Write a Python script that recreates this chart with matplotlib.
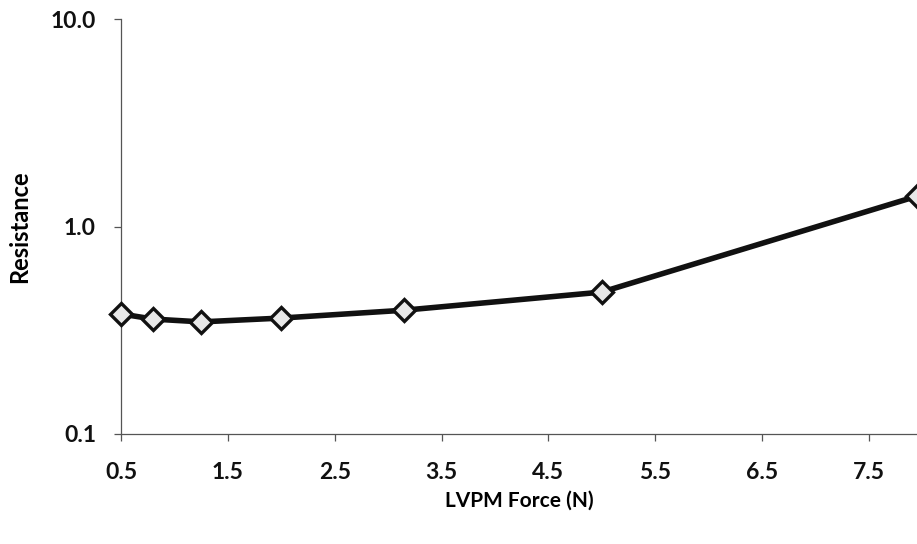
import matplotlib
matplotlib.use("Agg")
import matplotlib.pyplot as plt
from matplotlib.ticker import FixedLocator, NullLocator, FixedFormatter

force = [0.5, 0.8, 1.25, 2.0, 3.15, 5.0, 7.95]
resistance = [0.379, 0.358, 0.347, 0.362, 0.395, 0.483, 1.40]
x_ticks = [0.5, 1.5, 2.5, 3.5, 4.5, 5.5, 6.5, 7.5]
x_tick_labels = ["0.5", "1.5", "2.5", "3.5", "4.5", "5.5", "6.5", "7.5"]
y_ticks = [0.1, 1.0, 10.0]
y_tick_labels = ["0.1", "1.0", "10.0"]

plt.rcParams['font.family'] = ['Lato', 'DejaVu Sans']

fig = plt.figure(figsize=(9.17, 5.44), dpi=100)
ax = fig.add_axes([121/917, 1-434/544, 1-121/917, (434-19)/544])

ax.plot(force, resistance, color='#111111', lw=4.0, marker='D', ms=11,
        mfc='#e8e8e8', mec='#111111', mew=2.4, clip_on=False, zorder=3)

ax.set_yscale('log')
ax.set_xlim(0.5, 7.95)
ax.set_ylim(0.1, 10.0)
ax.xaxis.set_major_locator(FixedLocator(x_ticks))
ax.xaxis.set_major_formatter(FixedFormatter(x_tick_labels))
ax.yaxis.set_major_locator(FixedLocator(y_ticks))
ax.yaxis.set_major_formatter(FixedFormatter(y_tick_labels))
ax.yaxis.set_minor_locator(NullLocator())
ax.xaxis.set_minor_locator(NullLocator())

for s in ['top', 'right']:
    ax.spines[s].set_visible(False)
for s in ['left', 'bottom']:
    ax.spines[s].set_color('#555555')
    ax.spines[s].set_linewidth(0.9)

ax.tick_params(axis='both', direction='out', length=5, width=0.9, color='#555555',
               labelsize=16.5, labelcolor='#111111')
ax.tick_params(axis='x', pad=15)
ax.tick_params(axis='y', pad=13)
for lab in ax.get_xticklabels() + ax.get_yticklabels():
    lab.set_fontweight('bold')

ax.set_xlabel("LVPM Force (N)", fontsize=15, fontweight='bold', labelpad=6)
ax.set_ylabel("Resistance", fontsize=17, fontweight='bold', labelpad=14)

fig.savefig("out.png", dpi=100)
